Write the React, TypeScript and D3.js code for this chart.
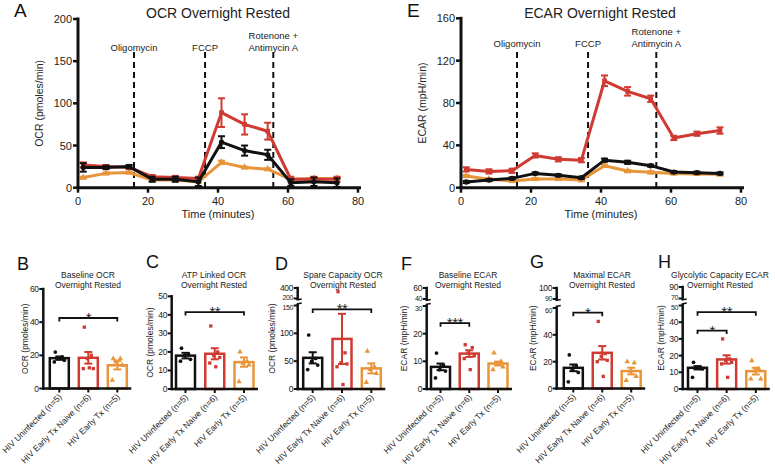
import React from 'react';
import * as d3 from 'd3';

// ---------- Time course data ----------
const times = [1.5, 8, 14.6, 21.2, 27.8, 34.4, 41, 47.6, 54.2, 60.8, 67.4, 74];
const timeTicks = [0, 20, 40, 60, 80];
const drugTimes = [16, 36.3, 55.8];
const drugLabels = [['Oligomycin'], ['FCCP'], ['Rotenone +', 'Antimycin A']];

const ocrUninf = [24, 24, 25, 10, 10, 7, 54, 44, 39, 6, 7, 6];
const ocrUninfErr = [5, 2, 2, 3, 3, 5, 7, 6, 6, 4, 5, 5];
const ocrNaive = [27, 25, 24, 13, 12, 11, 89, 75, 67, 10, 10, 10];
const ocrNaiveErr = [3, 2, 2, 2, 2, 2, 17, 12, 10, 3, 3, 3];
const ocrEarly = [12, 17, 18, 9, 9, 7, 30, 24, 22, 10, 11, 11];
const ocrEarlyErr = [1, 1, 1, 1, 1, 1, 2, 1, 1, 1, 1, 1];
const ocrTicks = [0, 50, 100, 150, 200];

const ecarUninf = [5.4, 7.2, 8.8, 13.5, 11.7, 9.4, 26, 24, 20.8, 14.8, 14.2, 13.5];
const ecarUninfErr = [1, 1, 1, 1, 1, 1, 1.5, 1.5, 1, 1, 1, 1];
const ecarNaive = [17.3, 15.4, 16, 30.5, 26.8, 26, 101, 91, 84, 47, 51, 54];
const ecarNaiveErr = [2, 2, 2, 2, 2, 2, 5, 4, 3, 2, 2, 3];
const ecarEarly = [11, 8, 6.3, 8.2, 8.2, 7.2, 20.8, 15.7, 14.5, 13.5, 13, 12.6];
const ecarEarlyErr = [1, 1, 1, 1, 1, 1, 1, 1, 1, 1, 1, 1];
const ecarTicks = [0, 40, 80, 120, 160];

// ---------- Bar panel data ----------
const categories = ['HIV Uninfected (n=5)', 'HIV Early Tx Naive (n=6)', 'HIV Early Tx (n=5)'];

const baseOcrMean = [18.3, 18.5, 14.0];
const baseOcrSem = [1.0, 3.5, 2.5];
const baseOcrUninf = [22, 19, 18, 17, 16];
const baseOcrNaive = [37, 20, 18, 12, 12, 12.5];
const baseOcrEarly = [18, 18, 16, 14, 5];
const baseOcrTicks = [0, 20, 40, 60];

const atpOcrMean = [18, 19, 14.5];
const atpOcrSem = [1.5, 3, 2.5];
const atpOcrUninf = [22, 19, 18, 16, 15];
const atpOcrNaive = [34, 20, 18, 17, 14, 12];
const atpOcrEarly = [20, 15, 14, 13, 4];
const atpOcrTicks = [0, 10, 20, 30, 40, 50];

const spareOcrMean = [56, 90, 37];
const spareOcrSem = [10, 45, 9];
const spareOcrUninf = [97, 55, 50, 43, 35];
const spareOcrNaive = [330, 65, 47, 45, 40, 8];
const spareOcrEarly = [68, 40, 35, 28, 12];
const spareLowTicks = [0, 50, 100, 150];
const spareUpTicks = [200, 400];

const baseEcarMean = [8, 12.8, 9.2];
const baseEcarSem = [1.2, 1.2, 0.7];
const baseEcarUninf = [13, 8.5, 7, 6.5, 4];
const baseEcarNaive = [16, 15, 13, 12, 11, 7];
const baseEcarEarly = [13, 10, 9, 8, 7];
const baseEcarLowTicks = [0, 10, 20, 30];
const baseEcarUpTicks = [40, 60];

const maxEcarMean = [15.4, 26.6, 13];
const maxEcarSem = [2.5, 5, 2.5];
const maxEcarUninf = [25, 17, 14, 12, 5];
const maxEcarNaive = [50, 26, 24, 21, 20, 9];
const maxEcarEarly = [20, 19, 13, 9, 6];
const maxEcarLowTicks = [0, 20, 40, 60];
const maxEcarUpTicks = [90, 100];

const glyEcarMean = [12.7, 17.7, 10.7];
const glyEcarSem = [1, 2.5, 2];
const glyEcarUninf = [16, 13, 12.5, 12, 7];
const glyEcarNaive = [30, 18, 17, 16, 15, 7];
const glyEcarEarly = [17, 12, 11, 6, 6];
const glyEcarLowTicks = [0, 10, 20, 30, 40, 50];
const glyEcarUpTicks = [70, 90];

const bSig = [{ from: 0, to: 2, at: 42.5, label: '*' }];
const cSig = [{ from: 0, to: 2, at: 41.5, label: '**' }];
const dSig = [{ from: 0, to: 2, at: 143, label: '**' }];
const fSig = [{ from: 0, to: 1, at: 23.8, label: '***' }];
const gSig = [{ from: 0, to: 1, at: 56.5, label: '*' }];
const hSig = [
  { from: 0, to: 1, at: 35, label: '*' },
  { from: 0, to: 2, at: 46, label: '**' },
];

// ---------- styles ----------
const BLACK = '#111111';
const RED = '#cf3a32';
const ORANGE = '#e8953a';
const COLORS = [BLACK, RED, ORANGE];
const SYMS = [d3.symbolCircle, d3.symbolSquare, d3.symbolTriangle];
const FONT = '"Liberation Sans", Arial, Helvetica, sans-serif';
const TXT = '#222';
const jitter = [-4, 3, -1, 5, -5, 1];

function TimePanel({ cfg }: any) {
  const x = d3.scaleLinear().domain([0, 80]).range([cfg.x0, cfg.x1]);
  const y = d3.scaleLinear().domain([0, cfg.yMax]).range([cfg.y0, cfg.yTop]);
  const line = d3.line<number>().x((_, i) => x(times[i])).y((d) => y(d));
  return (
    <g fontFamily={FONT}>
      <text x={cfg.letterX} y={17} fontSize={19} fill={BLACK}>{cfg.letter}</text>
      <text x={cfg.titleX} y={18} fontSize={14} textAnchor="middle" fill={TXT}>{cfg.title}</text>
      {drugTimes.map((t, i) => (
        <g key={i}>
          <line x1={x(t)} x2={x(t)} y1={52} y2={cfg.y0} stroke={BLACK} strokeWidth={2} strokeDasharray="6,4" />
          {drugLabels[i].map((s, j) => (
            <text key={j} x={x(t)} y={cfg.drugY - (drugLabels[i].length - 1 - j) * 12} fontSize={9.5} textAnchor="middle" fill={TXT}>{s}</text>
          ))}
        </g>
      ))}
      {cfg.series.map((s: any, si: number) => (
        <g key={si}>
          <path d={line(s.values) || ''} fill="none" stroke={COLORS[s.c]} strokeWidth={3} strokeLinejoin="round" />
          {s.values.map((v: number, i: number) => {
            const cx = x(times[i]);
            const lo = y(Math.max(0, v - s.errs[i]));
            const hi = y(v + s.errs[i]);
            return (
              <g key={i} stroke={COLORS[s.c]} strokeWidth={2}>
                <line x1={cx} x2={cx} y1={lo} y2={hi} />
                <line x1={cx - 3.5} x2={cx + 3.5} y1={lo} y2={lo} />
                <line x1={cx - 3.5} x2={cx + 3.5} y1={hi} y2={hi} />
                <path d={d3.symbol(SYMS[s.c], 22)() || ''} transform={`translate(${cx},${y(v)})`} fill={COLORS[s.c]} stroke="none" />
              </g>
            );
          })}
        </g>
      ))}
      {/* axes */}
      <line x1={cfg.x0} x2={cfg.x0} y1={cfg.yTop - 1.5} y2={cfg.y0 + 1.5} stroke={BLACK} strokeWidth={3} />
      <line x1={cfg.x0 - 1.5} x2={cfg.x1 + 3} y1={cfg.y0} y2={cfg.y0} stroke={BLACK} strokeWidth={3} />
      {cfg.yTicks.map((t: number) => (
        <g key={t}>
          <line x1={cfg.x0 - 5} x2={cfg.x0} y1={y(t)} y2={y(t)} stroke={BLACK} strokeWidth={2.5} />
          <text x={cfg.x0 - 6} y={y(t) + 4} fontSize={11} textAnchor="end" fill={TXT}>{t}</text>
        </g>
      ))}
      {timeTicks.map((t) => (
        <g key={t}>
          <line x1={x(t)} x2={x(t)} y1={cfg.y0} y2={cfg.y0 + 5} stroke={BLACK} strokeWidth={2.5} />
          <text x={x(t)} y={cfg.y0 + 17} fontSize={11} textAnchor="middle" fill={TXT}>{t}</text>
        </g>
      ))}
      <text x={(cfg.x0 + cfg.x1) / 2} y={218} fontSize={11} textAnchor="middle" fill={TXT}>Time (minutes)</text>
      <text transform={`translate(${cfg.ylabelX},${(cfg.y0 + cfg.yTop) / 2}) rotate(-90)`} fontSize={10.5} textAnchor="middle" fill={TXT}>{cfg.ylabel}</text>
    </g>
  );
}

function BarPanel({ p }: any) {
  const x = d3.scalePoint<string>().domain(categories).range([p.c0, p.c2]);
  const broken = p.upTicks != null;
  const yLow = d3.scaleLinear().domain([0, p.lowerMax]).range([p.y0, broken ? p.lowerTop : p.top]);
  const yUp = broken ? d3.scaleLinear().domain([p.upperMin, p.upperMax]).range([p.upperBottom, p.top]) : null;
  const y = (v: number) => (!broken || v <= p.lowerMax ? yLow(v) : yUp!(Math.max(v, p.upperMin)));
  const groups = [p.uninf, p.naive, p.early];
  const bw = 19;
  const lowTop = p.lowTicks[p.lowTicks.length - 1];
  return (
    <g fontFamily={FONT}>
      <text x={p.letterX} y={p.letterY} fontSize={18} fill={BLACK}>{p.letter}</text>
      {p.title.map((s: string, i: number) => (
        <text key={i} x={p.titleX} y={278 + i * 9.5} fontSize={8.5} textAnchor="middle" fill={TXT}>{s}</text>
      ))}
      <text transform={`translate(${p.ylabelX},${(p.y0 + p.top) / 2}) rotate(-90)`} fontSize={8.5} textAnchor="middle" fill={TXT}>{p.ylabel}</text>
      {/* bars */}
      {categories.map((c, i) => {
        const cx = x(c)!;
        const m = p.mean[i];
        const lo = y(m - p.sem[i]);
        const hi = y(m + p.sem[i]);
        return (
          <g key={c}>
            <rect x={cx - bw / 2} y={y(m)} width={bw} height={p.y0 - y(m)} fill="white" stroke={COLORS[i]} strokeWidth={2.5} />
            <g stroke={COLORS[i]} strokeWidth={2}>
              <line x1={cx} x2={cx} y1={lo} y2={hi} />
              <line x1={cx - 4} x2={cx + 4} y1={hi} y2={hi} />
              <line x1={cx - 4} x2={cx + 4} y1={lo} y2={lo} />
            </g>
            {groups[i].map((v: number, k: number) => (
              <path key={k} d={d3.symbol(SYMS[i], i === 2 ? 13 : 11)() || ''} transform={`translate(${cx + jitter[k]},${y(v)})`} fill={COLORS[i]} />
            ))}
          </g>
        );
      })}
      {/* significance */}
      {p.sig.map((s: any, i: number) => {
        const xa = x(categories[s.from])!;
        const xb = x(categories[s.to])!;
        const yy = y(s.at);
        return (
          <g key={i}>
            <path d={`M${xa},${yy + 3.5}V${yy}H${xb}V${yy + 3.5}`} fill="none" stroke={BLACK} strokeWidth={1.8} />
            <text x={(xa + xb) / 2} y={yy + 5} fontSize={15} textAnchor="middle" fill={TXT} letterSpacing={-0.5}>{s.label}</text>
          </g>
        );
      })}
      {/* y axis */}
      {broken ? (
        <g stroke={BLACK}>
          <line x1={p.ax} x2={p.ax} y1={p.y0 + 1.25} y2={p.lowerTop - 1.5} strokeWidth={2.5} />
          <line x1={p.ax} x2={p.ax} y1={p.upperBottom + 1.5} y2={p.top - 1.25} strokeWidth={2.5} />
          <line x1={p.ax - 1} x2={p.ax + 4} y1={p.lowerTop - 1.5} y2={p.lowerTop - 2.5} strokeWidth={1.5} />
          <line x1={p.ax - 1} x2={p.ax + 4} y1={p.upperBottom + 1.5} y2={p.upperBottom + 0.5} strokeWidth={1.5} />
        </g>
      ) : (
        <line x1={p.ax} x2={p.ax} y1={p.y0 + 1.25} y2={p.top - 1.25} stroke={BLACK} strokeWidth={2.5} />
      )}
      {[...p.lowTicks, ...(p.upTicks || [])].map((t: number, k: number) => {
        const nearBreak = broken && (t === lowTop || t === p.upperMin);
        const dy = !nearBreak ? 3 : t === lowTop ? 4.5 : 1.5;
        return (
          <g key={t}>
            <line x1={p.ax - 4} x2={p.ax} y1={y(t)} y2={y(t)} stroke={BLACK} strokeWidth={2} />
            <text x={p.ax - 4.5} y={y(t) + dy} fontSize={nearBreak ? 7 : 8.5} textAnchor="end" fill={TXT} letterSpacing={-0.3}>{t}</text>
          </g>
        );
      })}
      {/* x axis */}
      <line x1={p.ax - 1.25} x2={p.c2 + 14} y1={p.y0} y2={p.y0} stroke={BLACK} strokeWidth={2.5} />
      {categories.map((c) => (
        <g key={c}>
          <line x1={x(c)!} x2={x(c)!} y1={p.y0} y2={p.y0 + 4} stroke={BLACK} strokeWidth={2} />
          <text transform={`translate(${x(c)! + 3},${p.y0 + 9}) rotate(-45)`} fontSize={8.5} textAnchor="end" fill={TXT}>{c}</text>
        </g>
      ))}
    </g>
  );
}

export default function App() {
  const A = {
    letter: 'A', letterX: 14, title: 'OCR Overnight Rested', titleX: 218,
    x0: 78, x1: 358, y0: 187.7, yTop: 19, yMax: 200, yTicks: ocrTicks, drugY: 51,
    ylabel: 'OCR (pmoles/min)', ylabelX: 43,
    series: [
      { values: ocrEarly, errs: ocrEarlyErr, c: 2 },
      { values: ocrNaive, errs: ocrNaiveErr, c: 1 },
      { values: ocrUninf, errs: ocrUninfErr, c: 0 },
    ],
  };
  const E = {
    letter: 'E', letterX: 407, title: 'ECAR Overnight Rested', titleX: 600,
    x0: 461, x1: 741, y0: 187.7, yTop: 18.3, yMax: 160, yTicks: ecarTicks, drugY: 47,
    ylabel: 'ECAR (mpH/min)', ylabelX: 426,
    series: [
      { values: ecarEarly, errs: ecarEarlyErr, c: 2 },
      { values: ecarUninf, errs: ecarUninfErr, c: 0 },
      { values: ecarNaive, errs: ecarNaiveErr, c: 1 },
    ],
  };
  const panels = [
    { letter: 'B', letterX: 17, letterY: 270, title: ['Baseline OCR', 'Overnight Rested'], titleX: 88, ylabel: 'OCR (pmoles/min)', ylabelX: 28,
      ax: 43.3, c0: 59.3, c2: 117.3, y0: 388.5, top: 289, lowerMax: 60, lowTicks: baseOcrTicks,
      mean: baseOcrMean, sem: baseOcrSem, uninf: baseOcrUninf, naive: baseOcrNaive, early: baseOcrEarly, sig: bSig },
    { letter: 'C', letterX: 146, letterY: 268, title: ['ATP Linked OCR', 'Overnight Rested'], titleX: 214, ylabel: 'OCR (pmoles/min)', ylabelX: 153,
      ax: 171.7, c0: 185.5, c2: 244, y0: 389, top: 296.3, lowerMax: 50, lowTicks: atpOcrTicks,
      mean: atpOcrMean, sem: atpOcrSem, uninf: atpOcrUninf, naive: atpOcrNaive, early: atpOcrEarly, sig: cSig },
    { letter: 'D', letterX: 275, letterY: 270, title: ['Spare Capacity OCR', 'Overnight Rested'], titleX: 343, ylabel: 'OCR (pmoles/min)', ylabelX: 275,
      ax: 297.7, c0: 312.7, c2: 371.3, y0: 389, top: 288, lowerMax: 150, lowerTop: 305.5, upperMin: 200, upperBottom: 298.5, upperMax: 400,
      lowTicks: spareLowTicks, upTicks: spareUpTicks,
      mean: spareOcrMean, sem: spareOcrSem, uninf: spareOcrUninf, naive: spareOcrNaive, early: spareOcrEarly, sig: dSig },
    { letter: 'F', letterX: 401, letterY: 270, title: ['Baseline ECAR', 'Overnight Rested'], titleX: 468, ylabel: 'ECAR (mpH/min)', ylabelX: 407,
      ax: 426.7, c0: 440.5, c2: 498, y0: 389, top: 288, lowerMax: 30, lowerTop: 306, upperMin: 40, upperBottom: 299, upperMax: 60,
      lowTicks: baseEcarLowTicks, upTicks: baseEcarUpTicks,
      mean: baseEcarMean, sem: baseEcarSem, uninf: baseEcarUninf, naive: baseEcarNaive, early: baseEcarEarly, sig: fSig },
    { letter: 'G', letterX: 530, letterY: 268, title: ['Maximal ECAR', 'Overnight Rested'], titleX: 602, ylabel: 'ECAR (mpH/min)', ylabelX: 536,
      ax: 556.7, c0: 573.3, c2: 631.2, y0: 388.5, top: 288, lowerMax: 60, lowerTop: 308, upperMin: 90, upperBottom: 299, upperMax: 100,
      lowTicks: maxEcarLowTicks, upTicks: maxEcarUpTicks,
      mean: maxEcarMean, sem: maxEcarSem, uninf: maxEcarUninf, naive: maxEcarNaive, early: maxEcarEarly, sig: gSig },
    { letter: 'H', letterX: 658, letterY: 268, title: ['Glycolytic Capacity ECAR', 'Overnight Rested'], titleX: 720, ylabel: 'ECAR (mpH/min)', ylabelX: 664,
      ax: 682.7, c0: 697.5, c2: 755.8, y0: 389, top: 287, lowerMax: 50, lowerTop: 305.5, upperMin: 70, upperBottom: 298.5, upperMax: 90,
      lowTicks: glyEcarLowTicks, upTicks: glyEcarUpTicks,
      mean: glyEcarMean, sem: glyEcarSem, uninf: glyEcarUninf, naive: glyEcarNaive, early: glyEcarEarly, sig: hSig },
  ];
  return (
    <svg width={775} height={466} style={{ position: 'absolute', left: 0, top: 0, background: 'white' }}>
      <rect width={775} height={466} fill="white" />
      <TimePanel cfg={A} />
      <TimePanel cfg={E} />
      {panels.map((p) => (
        <BarPanel key={p.letter} p={p} />
      ))}
    </svg>
  );
}
